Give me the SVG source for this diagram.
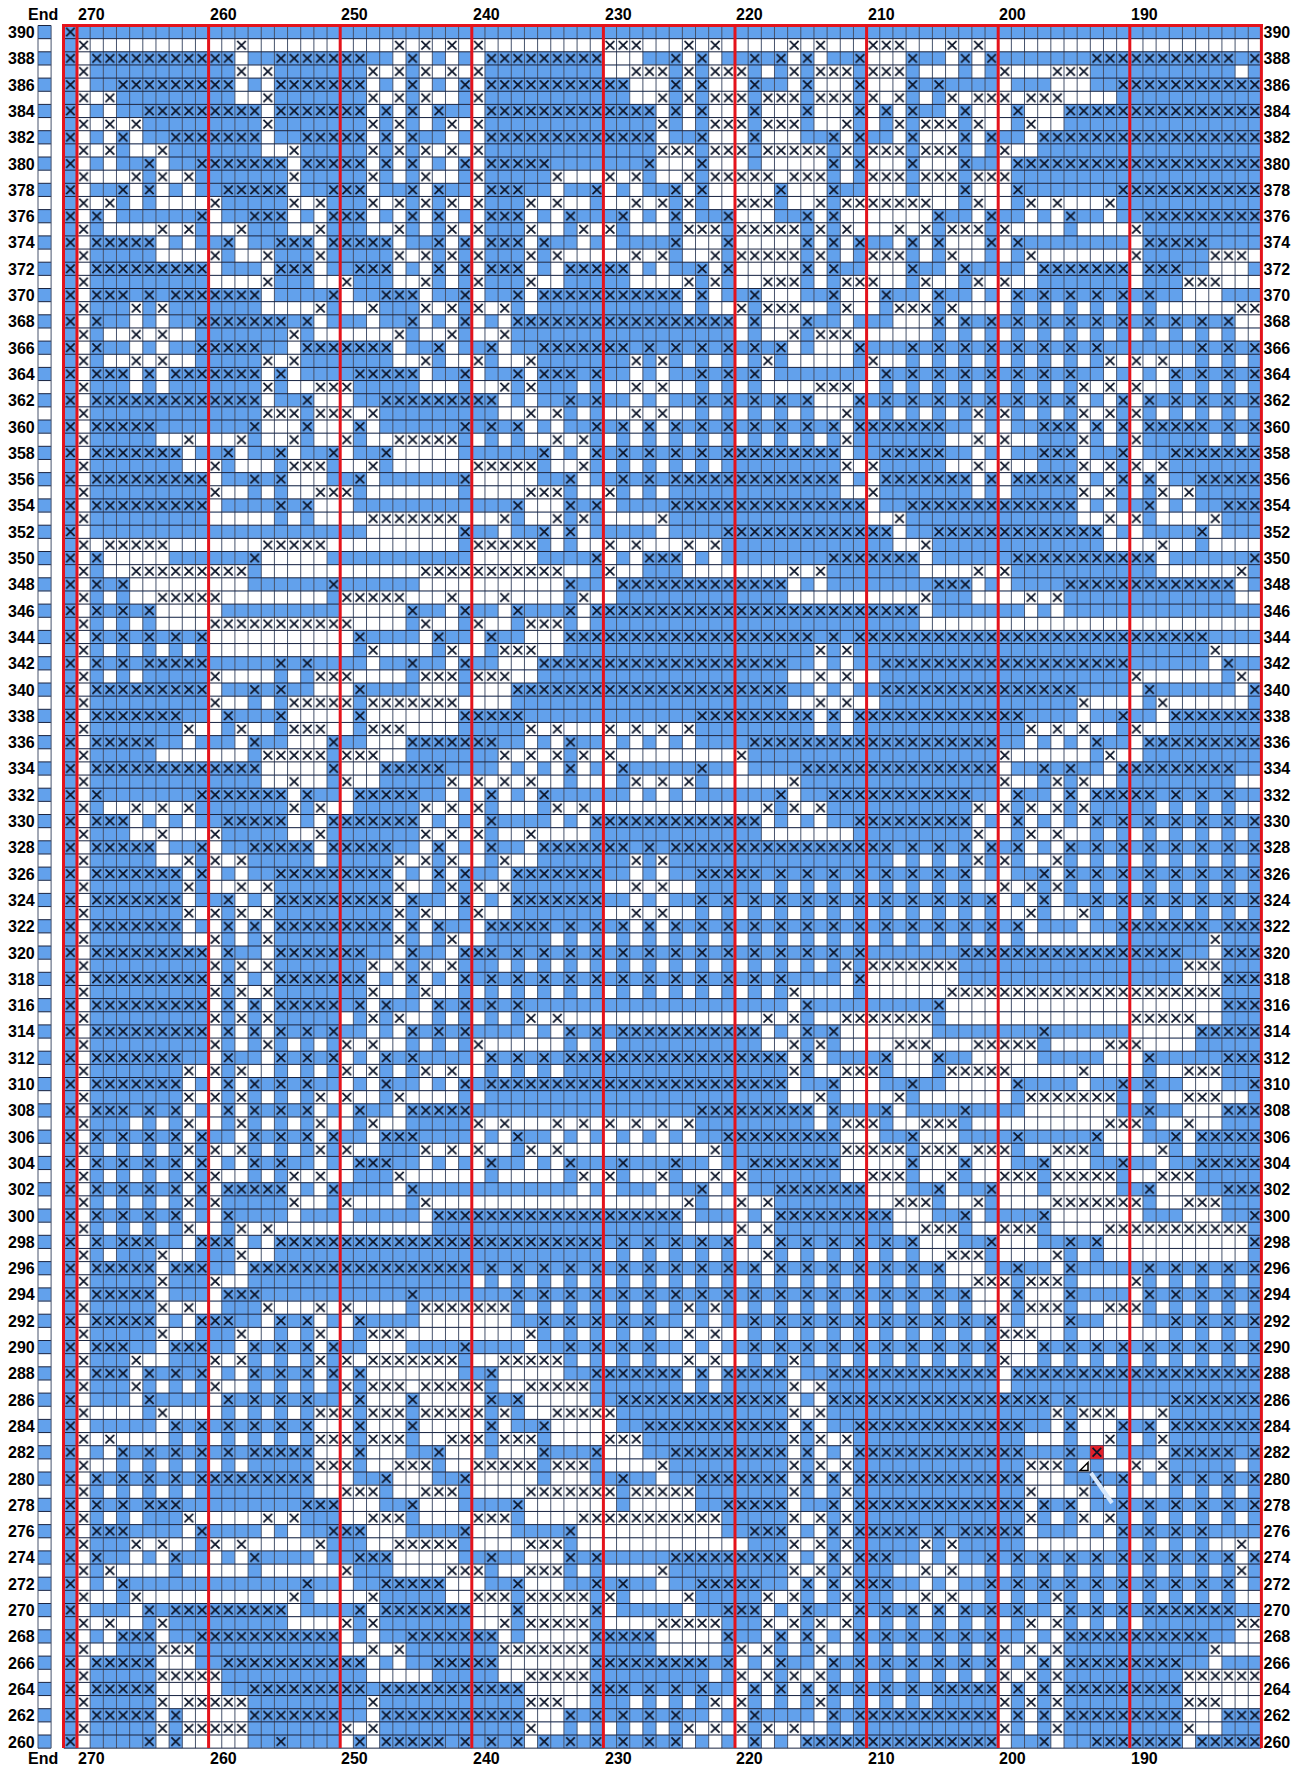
<svg xmlns="http://www.w3.org/2000/svg" width="1306" height="1769" viewBox="0 0 1306 1769">
<style>
text{font-family:"Liberation Sans",Arial,sans-serif;font-weight:bold;font-size:16px;fill:#000}
.e,.o{fill:none;stroke-width:2}
.e{stroke:url(#pe)}
.o{stroke:url(#po)}
.h{fill:none;stroke:#1a2440;stroke-width:1;vector-effect:non-scaling-stroke}
.v{fill:none;stroke:#47536c;stroke-width:1;vector-effect:non-scaling-stroke}
.r{fill:none;stroke:#e4131b;stroke-width:3}
</style>
<defs>
<pattern id="pb" patternUnits="userSpaceOnUse" width="1" height="2"><rect width="1" height="2" fill="#fff"/><rect width="1" height="1" fill="#62a1ec"/></pattern>
<pattern id="pe" patternUnits="userSpaceOnUse" width="1" height="2"><rect width="1" height="2" fill="#62a1ec"/><path d="M.17 .17L.83 .83M.83 .17L.17 .83" fill="none" stroke="#0b1428" stroke-width=".13"/></pattern>
<pattern id="po" patternUnits="userSpaceOnUse" width="1" height="2"><rect width="1" height="2" fill="#fff"/><path d="M.17 1.17L.83 1.83M.83 1.17L.17 1.83" fill="none" stroke="#0b1428" stroke-width=".13"/></pattern>
<clipPath id="cl"><rect x="-1" y="0" width="91" height="131"/></clipPath>
</defs>
<rect width="1306" height="1769" fill="#fff"/>
<g id="end-column" transform="translate(38 25.5) scale(13.1 13.15)">
<rect width="1" height="131" fill="url(#pb)"/>
<path class="h" d="M0 0H1M0 1H1M0 2H1M0 3H1M0 4H1M0 5H1M0 6H1M0 7H1M0 8H1M0 9H1M0 10H1M0 11H1M0 12H1M0 13H1M0 14H1M0 15H1M0 16H1M0 17H1M0 18H1M0 19H1M0 20H1M0 21H1M0 22H1M0 23H1M0 24H1M0 25H1M0 26H1M0 27H1M0 28H1M0 29H1M0 30H1M0 31H1M0 32H1M0 33H1M0 34H1M0 35H1M0 36H1M0 37H1M0 38H1M0 39H1M0 40H1M0 41H1M0 42H1M0 43H1M0 44H1M0 45H1M0 46H1M0 47H1M0 48H1M0 49H1M0 50H1M0 51H1M0 52H1M0 53H1M0 54H1M0 55H1M0 56H1M0 57H1M0 58H1M0 59H1M0 60H1M0 61H1M0 62H1M0 63H1M0 64H1M0 65H1M0 66H1M0 67H1M0 68H1M0 69H1M0 70H1M0 71H1M0 72H1M0 73H1M0 74H1M0 75H1M0 76H1M0 77H1M0 78H1M0 79H1M0 80H1M0 81H1M0 82H1M0 83H1M0 84H1M0 85H1M0 86H1M0 87H1M0 88H1M0 89H1M0 90H1M0 91H1M0 92H1M0 93H1M0 94H1M0 95H1M0 96H1M0 97H1M0 98H1M0 99H1M0 100H1M0 101H1M0 102H1M0 103H1M0 104H1M0 105H1M0 106H1M0 107H1M0 108H1M0 109H1M0 110H1M0 111H1M0 112H1M0 113H1M0 114H1M0 115H1M0 116H1M0 117H1M0 118H1M0 119H1M0 120H1M0 121H1M0 122H1M0 123H1M0 124H1M0 125H1M0 126H1M0 127H1M0 128H1M0 129H1M0 130H1M0 131H1"/>
<path class="v" d="M0 0V131M1 0V131"/>
</g>
<g id="chart" transform="translate(77 25.5) scale(13.16 13.15)">
<g clip-path="url(#cl)">
<rect x="-1" width="91" height="131" fill="url(#pb)"/>
<path class="e" d="M-1 1h1"/>
<path class="o" d="M0 2h1M12 2h1M24 2h1M26 2h1M28 2h1M30 2h1M40 2h3M46 2h1M48 2h1M54 2h1M56 2h1M60 2h3M66 2h1M68 2h1"/>
<path class="e" d="M-1 3h1M1 3h11M15 3h7M25 3h1M31 3h9M45 3h1M47 3h1M51 3h1M53 3h1M55 3h1M59 3h1M63 3h1M67 3h1M69 3h1M77 3h11M89 3h1"/>
<path class="o" d="M0 4h1M12 4h1M14 4h1M22 4h1M24 4h1M26 4h1M28 4h1M30 4h1M42 4h3M46 4h1M48 4h3M54 4h1M56 4h3M60 4h3M70 4h1M74 4h3"/>
<path class="e" d="M-1 5h1M3 5h9M15 5h7M25 5h1M29 5h1M31 5h11M45 5h1M47 5h1M51 5h1M55 5h1M59 5h1M63 5h1M65 5h1M79 5h11"/>
<path class="o" d="M0 6h1M2 6h1M14 6h1M22 6h1M24 6h1M26 6h1M30 6h1M44 6h1M46 6h1M48 6h3M52 6h3M56 6h3M60 6h1M62 6h1M66 6h1M68 6h3M72 6h3"/>
<path class="e" d="M-1 7h1M5 7h9M15 7h7M23 7h1M25 7h1M27 7h1M31 7h13M45 7h1M47 7h1M51 7h1M55 7h1M59 7h1M61 7h1M63 7h1M67 7h1M71 7h1M75 7h15"/>
<path class="o" d="M0 8h1M2 8h1M4 8h1M14 8h1M22 8h1M24 8h1M28 8h1M30 8h1M44 8h1M48 8h3M52 8h3M58 8h1M62 8h1M64 8h3M68 8h1M72 8h1"/>
<path class="e" d="M-1 9h1M3 9h1M7 9h7M17 9h5M23 9h1M25 9h1M31 9h13M47 9h1M51 9h1M57 9h1M59 9h1M63 9h1M67 9h1M69 9h1M73 9h17"/>
<path class="o" d="M0 10h1M2 10h1M6 10h1M16 10h1M22 10h1M24 10h1M26 10h1M28 10h1M30 10h1M44 10h3M48 10h3M52 10h5M58 10h1M60 10h3M64 10h3M70 10h1"/>
<path class="e" d="M-1 11h1M5 11h1M9 11h7M17 11h5M23 11h1M25 11h1M29 11h1M31 11h5M43 11h1M47 11h1M57 11h1M59 11h1M63 11h1M67 11h1M71 11h19"/>
<path class="o" d="M0 12h1M4 12h1M6 12h1M8 12h1M16 12h1M22 12h1M26 12h1M30 12h1M36 12h1M40 12h1M42 12h1M46 12h1M48 12h5M54 12h3M60 12h3M64 12h3M68 12h3"/>
<path class="e" d="M-1 13h1M3 13h1M5 13h1M11 13h5M19 13h3M25 13h1M27 13h1M31 13h3M39 13h1M45 13h1M47 13h1M53 13h1M57 13h1M67 13h1M71 13h1M79 13h11"/>
<path class="o" d="M0 14h1M2 14h1M10 14h1M16 14h1M18 14h1M22 14h1M24 14h1M26 14h1M28 14h1M30 14h1M34 14h1M36 14h1M42 14h1M44 14h1M46 14h1M50 14h3M56 14h1M58 14h7M68 14h1M72 14h1M74 14h1M78 14h1"/>
<path class="e" d="M-1 15h1M1 15h1M9 15h1M13 15h3M19 15h3M25 15h1M27 15h1M31 15h3M37 15h1M41 15h1M45 15h1M49 15h1M55 15h1M57 15h1M65 15h1M69 15h1M75 15h1M81 15h9"/>
<path class="o" d="M0 16h1M6 16h1M8 16h1M12 16h1M18 16h1M24 16h1M28 16h1M30 16h1M34 16h1M38 16h1M40 16h1M46 16h3M50 16h5M56 16h1M58 16h1M62 16h1M64 16h1M66 16h3M70 16h1M80 16h1"/>
<path class="e" d="M-1 17h1M1 17h5M11 17h1M15 17h3M19 17h5M27 17h1M29 17h1M31 17h3M35 17h1M45 17h1M49 17h1M55 17h1M57 17h1M59 17h1M63 17h1M65 17h1M69 17h1M71 17h1M81 17h5"/>
<path class="o" d="M0 18h1M10 18h1M14 18h1M18 18h1M24 18h1M26 18h1M28 18h1M30 18h1M34 18h1M36 18h1M42 18h1M44 18h1M48 18h1M50 18h5M56 18h1M60 18h3M66 18h1M72 18h1M80 18h1M86 18h3"/>
<path class="e" d="M-1 19h1M1 19h9M15 19h3M21 19h3M27 19h1M29 19h1M31 19h3M37 19h5M47 19h1M49 19h1M55 19h1M57 19h1M63 19h1M67 19h1M73 19h7M81 19h3"/>
<path class="o" d="M0 20h1M14 20h1M20 20h1M26 20h1M30 20h1M34 20h1M46 20h1M48 20h1M52 20h3M58 20h3M64 20h1M68 20h1M70 20h1M84 20h3"/>
<path class="e" d="M-1 21h1M1 21h3M5 21h1M7 21h7M19 21h1M23 21h3M29 21h1M33 21h1M35 21h11M47 21h1M51 21h1M57 21h1M61 21h1M65 21h1M71 21h1M73 21h1M75 21h1M77 21h1M79 21h1M81 21h1"/>
<path class="o" d="M0 22h1M4 22h1M6 22h1M18 22h1M22 22h1M26 22h1M28 22h1M30 22h1M32 22h1M50 22h1M52 22h3M58 22h1M62 22h3M66 22h1M88 22h2"/>
<path class="e" d="M-1 23h1M1 23h1M9 23h7M17 23h1M25 23h1M29 23h1M33 23h17M51 23h1M55 23h1M65 23h1M67 23h1M69 23h1M71 23h1M73 23h1M75 23h1M77 23h1M79 23h1M81 23h1M83 23h1M85 23h1M87 23h1"/>
<path class="o" d="M0 24h1M4 24h1M6 24h1M16 24h1M24 24h1M28 24h1M32 24h1M54 24h1M56 24h3"/>
<path class="e" d="M-1 25h1M1 25h1M9 25h5M17 25h7M27 25h1M31 25h1M35 25h7M43 25h1M45 25h1M47 25h1M49 25h1M51 25h1M53 25h1M59 25h1M63 25h1M65 25h1M67 25h1M69 25h1M71 25h1M73 25h1M75 25h1M77 25h1M85 25h1M87 25h1M89 25h1"/>
<path class="o" d="M0 26h1M4 26h1M6 26h1M14 26h1M16 26h1M26 26h1M30 26h1M34 26h1M42 26h1M44 26h1M52 26h1M60 26h1M78 26h1M80 26h1M82 26h1"/>
<path class="e" d="M-1 27h1M1 27h3M5 27h1M7 27h7M15 27h1M21 27h5M29 27h1M33 27h1M35 27h3M39 27h1M47 27h1M49 27h1M51 27h1M61 27h1M63 27h1M65 27h1M67 27h1M69 27h1M71 27h1M73 27h1M75 27h1M83 27h1M85 27h1M87 27h1M89 27h1"/>
<path class="o" d="M0 28h1M14 28h1M18 28h3M32 28h1M34 28h1M42 28h1M44 28h1M56 28h3M76 28h1M78 28h1M80 28h1"/>
<path class="e" d="M-1 29h1M1 29h13M17 29h1M23 29h9M37 29h1M39 29h1M47 29h1M49 29h1M51 29h1M53 29h1M55 29h1M59 29h1M61 29h1M63 29h1M65 29h1M67 29h1M69 29h1M71 29h1M73 29h1M75 29h1M79 29h1M81 29h1M83 29h1M85 29h1M87 29h1M89 29h1"/>
<path class="o" d="M0 30h1M14 30h3M18 30h3M22 30h1M34 30h1M36 30h1M42 30h1M44 30h1M58 30h1M68 30h1M70 30h1M76 30h1M78 30h1M80 30h1"/>
<path class="e" d="M-1 31h1M1 31h5M13 31h1M17 31h1M21 31h1M29 31h1M31 31h1M33 31h1M39 31h1M41 31h1M43 31h1M45 31h1M47 31h1M49 31h1M51 31h1M53 31h1M55 31h1M57 31h1M59 31h7M73 31h3M77 31h1M79 31h1M81 31h5M87 31h1M89 31h1"/>
<path class="o" d="M0 32h1M8 32h1M12 32h1M16 32h1M20 32h1M24 32h5M36 32h1M38 32h1M58 32h1M68 32h1M70 32h1M76 32h1M80 32h1"/>
<path class="e" d="M-1 33h1M1 33h7M11 33h1M15 33h1M19 33h1M23 33h1M35 33h1M39 33h1M41 33h1M43 33h1M45 33h1M47 33h1M49 33h9M61 33h5M73 33h3M79 33h1M83 33h7"/>
<path class="o" d="M0 34h1M10 34h1M16 34h3M22 34h1M30 34h5M38 34h1M58 34h1M60 34h1M68 34h1M70 34h1M76 34h1M78 34h1M80 34h1M82 34h1"/>
<path class="e" d="M-1 35h1M1 35h9M13 35h1M15 35h1M21 35h1M29 35h1M37 35h1M41 35h1M43 35h1M45 35h13M61 35h7M69 35h1M71 35h5M79 35h1M81 35h1M85 35h5"/>
<path class="o" d="M0 36h1M10 36h1M18 36h3M34 36h3M40 36h1M60 36h1M76 36h1M78 36h1M82 36h1M84 36h1"/>
<path class="e" d="M-1 37h1M1 37h9M15 37h1M17 37h1M33 37h1M37 37h1M39 37h1M45 37h15M63 37h13M81 37h1M87 37h3"/>
<path class="o" d="M0 38h1M22 38h7M32 38h1M36 38h1M38 38h1M44 38h1M62 38h1M78 38h1M80 38h1M86 38h1"/>
<path class="e" d="M-1 39h1M29 39h1M35 39h1M37 39h1M49 39h13M65 39h13M85 39h1"/>
<path class="o" d="M0 40h1M2 40h5M14 40h5M30 40h5M40 40h1M42 40h1M46 40h1M48 40h1M64 40h1M82 40h1"/>
<path class="e" d="M-1 41h1M1 41h1M13 41h1M39 41h1M43 41h3M57 41h7M71 41h11M89 41h1"/>
<path class="o" d="M0 42h1M4 42h9M26 42h11M40 42h1M54 42h1M56 42h1M68 42h1M70 42h1M88 42h1"/>
<path class="e" d="M-1 43h1M1 43h1M3 43h1M19 43h1M37 43h1M41 43h13M65 43h3M75 43h13"/>
<path class="o" d="M0 44h1M6 44h5M20 44h5M28 44h1M32 44h1M38 44h1M64 44h1M72 44h1M74 44h1"/>
<path class="e" d="M-1 45h1M1 45h1M3 45h1M5 45h1M25 45h1M29 45h1M33 45h1M37 45h1M39 45h25"/>
<path class="o" d="M0 46h1M10 46h11M26 46h1M30 46h1M34 46h3"/>
<path class="e" d="M-1 47h1M1 47h1M3 47h1M5 47h1M7 47h1M9 47h1M21 47h1M27 47h1M31 47h1M37 47h19M57 47h1M59 47h27"/>
<path class="o" d="M0 48h1M22 48h1M28 48h1M32 48h3M56 48h1M58 48h1M86 48h1"/>
<path class="e" d="M-1 49h1M1 49h1M3 49h1M5 49h5M15 49h1M17 49h1M25 49h1M29 49h1M35 49h19M61 49h19M87 49h1"/>
<path class="o" d="M0 50h1M10 50h1M18 50h3M26 50h3M30 50h3M56 50h1M58 50h1M80 50h1M88 50h1"/>
<path class="e" d="M-1 51h1M1 51h9M13 51h1M15 51h1M21 51h1M33 51h21M61 51h15M81 51h1M89 51h1"/>
<path class="o" d="M0 52h1M10 52h1M16 52h5M22 52h7M56 52h1M58 52h1M76 52h1M82 52h1"/>
<path class="e" d="M-1 53h1M1 53h7M11 53h1M15 53h1M21 53h1M29 53h5M47 53h9M57 53h1M59 53h13M79 53h1M83 53h7"/>
<path class="o" d="M0 54h1M8 54h1M12 54h1M16 54h3M22 54h3M34 54h1M36 54h1M40 54h1M42 54h1M44 54h1M46 54h1M72 54h1M74 54h1M76 54h1M80 54h1"/>
<path class="e" d="M-1 55h1M1 55h5M13 55h1M19 55h1M25 55h7M37 55h1M51 55h19M77 55h1M81 55h9"/>
<path class="o" d="M0 56h1M14 56h5M20 56h3M32 56h1M34 56h1M36 56h1M38 56h1M40 56h1M50 56h1M70 56h1M78 56h1"/>
<path class="e" d="M-1 57h1M1 57h13M19 57h1M23 57h5M37 57h1M41 57h1M47 57h1M55 57h15M73 57h1M75 57h1M79 57h9"/>
<path class="o" d="M0 58h1M16 58h1M20 58h1M28 58h1M30 58h1M32 58h1M34 58h1M42 58h1M44 58h1M46 58h1M54 58h1M70 58h1M74 58h1M76 58h1"/>
<path class="e" d="M-1 59h1M1 59h1M9 59h7M17 59h1M21 59h5M31 59h1M35 59h1M53 59h1M57 59h11M71 59h1M75 59h1M77 59h5M83 59h1M85 59h1M87 59h1"/>
<path class="o" d="M0 60h1M4 60h1M6 60h1M8 60h1M16 60h1M18 60h1M26 60h1M28 60h1M30 60h1M36 60h1M38 60h1M52 60h1M54 60h1M56 60h1M68 60h1M70 60h1M72 60h1M74 60h1M76 60h1"/>
<path class="e" d="M-1 61h1M1 61h3M11 61h5M19 61h7M31 61h1M39 61h13M59 61h9M71 61h1M77 61h1M79 61h1M81 61h1M83 61h1M85 61h1M87 61h1M89 61h1"/>
<path class="o" d="M0 62h1M6 62h1M10 62h1M18 62h1M26 62h1M28 62h1M30 62h1M34 62h1M68 62h1M72 62h1M74 62h1"/>
<path class="e" d="M-1 63h1M1 63h5M9 63h1M13 63h5M19 63h5M27 63h1M31 63h1M35 63h7M43 63h1M45 63h17M63 63h1M65 63h1M67 63h1M69 63h1M71 63h1M75 63h1M77 63h1M79 63h1M81 63h1M83 63h1M85 63h1M87 63h1M89 63h1"/>
<path class="o" d="M0 64h1M8 64h1M10 64h1M12 64h1M24 64h1M26 64h1M28 64h1M32 64h1M42 64h1M44 64h1M68 64h1M70 64h1M74 64h1"/>
<path class="e" d="M-1 65h1M1 65h7M9 65h1M15 65h9M27 65h1M29 65h1M33 65h7M47 65h5M53 65h1M55 65h1M57 65h1M59 65h1M61 65h1M63 65h1M65 65h1M67 65h1M73 65h1M75 65h1M77 65h1M79 65h1M81 65h1M83 65h1M85 65h1M87 65h1M89 65h1"/>
<path class="o" d="M0 66h1M8 66h1M12 66h1M14 66h1M24 66h1M28 66h1M30 66h1M32 66h1M42 66h1M44 66h1M70 66h1M72 66h1M74 66h1"/>
<path class="e" d="M-1 67h1M1 67h7M11 67h1M15 67h9M25 67h1M29 67h1M33 67h7M47 67h1M49 67h1M51 67h1M53 67h1M55 67h1M57 67h1M59 67h1M61 67h1M63 67h1M65 67h1M67 67h1M69 67h1M73 67h1M77 67h1M79 67h1M81 67h1M83 67h1M85 67h1M87 67h1M89 67h1"/>
<path class="o" d="M0 68h1M8 68h1M10 68h1M12 68h1M14 68h1M24 68h1M26 68h1M30 68h1M42 68h1M44 68h1M72 68h1M76 68h1"/>
<path class="e" d="M-1 69h1M1 69h7M11 69h1M13 69h1M15 69h9M25 69h1M27 69h1M31 69h5M37 69h1M39 69h1M41 69h1M43 69h1M45 69h1M47 69h1M49 69h1M51 69h1M53 69h1M55 69h1M57 69h1M59 69h1M61 69h1M63 69h1M65 69h1M67 69h1M69 69h1M71 69h1M79 69h7M87 69h3"/>
<path class="o" d="M0 70h1M10 70h1M14 70h1M24 70h1M28 70h1M86 70h1"/>
<path class="e" d="M-1 71h1M1 71h9M11 71h1M15 71h7M25 71h1M29 71h3M33 71h1M35 71h1M37 71h1M39 71h1M41 71h1M43 71h1M45 71h1M47 71h1M49 71h1M51 71h1M53 71h1M55 71h1M57 71h1M59 71h1M67 71h17M87 71h3"/>
<path class="o" d="M0 72h1M10 72h1M12 72h1M14 72h1M22 72h1M24 72h1M26 72h1M28 72h1M58 72h1M60 72h7M84 72h3"/>
<path class="e" d="M-1 73h1M1 73h9M11 73h1M15 73h7M25 73h1M29 73h1M31 73h1M33 73h1M35 73h1M37 73h1M39 73h1M41 73h1M43 73h1M45 73h1M47 73h1M49 73h1M51 73h1M53 73h1M59 73h1M87 73h3"/>
<path class="o" d="M0 74h1M10 74h1M12 74h1M14 74h1M22 74h1M26 74h1M54 74h1M66 74h21"/>
<path class="e" d="M-1 75h1M1 75h9M11 75h1M13 75h1M15 75h5M21 75h1M23 75h1M27 75h1M29 75h1M31 75h1M33 75h1M55 75h1M65 75h1M87 75h3"/>
<path class="o" d="M0 76h1M10 76h1M12 76h1M14 76h1M22 76h1M24 76h1M34 76h1M36 76h1M52 76h1M54 76h1M58 76h7M80 76h5"/>
<path class="e" d="M-1 77h1M1 77h9M11 77h1M13 77h1M15 77h1M17 77h1M19 77h1M25 77h1M27 77h1M29 77h1M37 77h1M39 77h1M41 77h11M55 77h1M57 77h1M73 77h1M85 77h5"/>
<path class="o" d="M0 78h1M10 78h1M14 78h1M20 78h1M22 78h1M30 78h1M54 78h1M56 78h1M62 78h3M68 78h5M78 78h3"/>
<path class="e" d="M-1 79h1M1 79h7M11 79h1M15 79h1M17 79h1M19 79h1M23 79h1M25 79h1M31 79h1M33 79h1M35 79h1M37 79h17M55 79h1M61 79h1M65 79h1M81 79h1M87 79h3"/>
<path class="o" d="M0 80h1M8 80h1M10 80h1M12 80h1M20 80h1M22 80h1M26 80h1M28 80h1M54 80h1M58 80h3M66 80h5M76 80h1M84 80h3"/>
<path class="e" d="M-1 81h1M1 81h7M11 81h1M13 81h1M15 81h1M17 81h1M23 81h1M29 81h1M31 81h23M57 81h1M63 81h1M71 81h1M79 81h1M81 81h1M89 81h1"/>
<path class="o" d="M0 82h1M8 82h1M10 82h1M12 82h1M18 82h1M20 82h1M24 82h1M56 82h1M62 82h1M72 82h7M84 82h3"/>
<path class="e" d="M-1 83h1M1 83h3M5 83h1M7 83h1M11 83h1M13 83h1M15 83h1M17 83h1M21 83h1M25 83h5M47 83h9M57 83h1M61 83h1M67 83h1M81 83h1M87 83h3"/>
<path class="o" d="M0 84h1M8 84h1M12 84h1M18 84h1M22 84h1M30 84h1M32 84h1M36 84h1M38 84h1M40 84h1M42 84h1M44 84h1M46 84h1M58 84h3M64 84h3M78 84h3M84 84h1"/>
<path class="e" d="M-1 85h1M1 85h1M3 85h1M5 85h1M7 85h1M9 85h1M13 85h1M15 85h1M17 85h1M19 85h1M23 85h3M33 85h1M49 85h9M63 85h1M71 85h1M77 85h1M83 85h1M85 85h5"/>
<path class="o" d="M0 86h1M8 86h1M10 86h1M12 86h1M18 86h1M20 86h1M26 86h1M28 86h1M30 86h1M34 86h1M36 86h1M48 86h1M58 86h5M64 86h3M68 86h3M74 86h3M82 86h1"/>
<path class="e" d="M-1 87h1M1 87h1M3 87h1M5 87h1M7 87h1M9 87h1M13 87h1M15 87h1M21 87h3M31 87h1M37 87h1M41 87h1M45 87h1M51 87h7M63 87h1M67 87h1M73 87h1M79 87h1M85 87h5"/>
<path class="o" d="M0 88h1M8 88h1M10 88h1M16 88h1M18 88h1M24 88h1M38 88h1M40 88h1M44 88h1M48 88h1M50 88h1M60 88h3M66 88h1M70 88h3M74 88h5M82 88h3"/>
<path class="e" d="M-1 89h1M1 89h1M3 89h1M5 89h1M7 89h1M9 89h1M11 89h5M19 89h1M25 89h1M47 89h1M53 89h7M65 89h1M69 89h1M81 89h1M87 89h3"/>
<path class="o" d="M0 90h1M8 90h1M10 90h1M16 90h1M20 90h1M26 90h1M46 90h1M50 90h1M52 90h1M62 90h3M68 90h1M74 90h7M84 90h3"/>
<path class="e" d="M-1 91h1M1 91h1M3 91h1M5 91h1M7 91h1M11 91h1M27 91h19M53 91h9M67 91h1M73 91h1M89 91h1"/>
<path class="o" d="M0 92h1M8 92h1M12 92h1M14 92h1M50 92h1M52 92h1M64 92h3M70 92h3M78 92h11"/>
<path class="e" d="M-1 93h1M1 93h1M3 93h3M9 93h3M15 93h25M41 93h1M43 93h1M45 93h1M47 93h1M49 93h1M53 93h1M55 93h1M57 93h1M59 93h1M61 93h1M63 93h1M69 93h1M75 93h1M77 93h1M89 93h1"/>
<path class="o" d="M0 94h1M6 94h1M12 94h1M52 94h1M66 94h3M74 94h1"/>
<path class="e" d="M-1 95h1M1 95h5M7 95h3M13 95h17M31 95h1M33 95h1M35 95h1M37 95h1M39 95h1M41 95h1M43 95h1M45 95h1M47 95h1M49 95h1M51 95h1M53 95h1M55 95h1M57 95h1M59 95h1M61 95h1M63 95h1M65 95h1M71 95h1M75 95h1M81 95h1M83 95h1M85 95h1M87 95h1M89 95h1"/>
<path class="o" d="M0 96h1M6 96h1M10 96h1M68 96h3M72 96h3M80 96h1"/>
<path class="e" d="M-1 97h1M1 97h5M11 97h3M25 97h1M33 97h1M35 97h1M37 97h1M39 97h1M41 97h1M43 97h1M45 97h1M47 97h1M49 97h1M51 97h1M53 97h1M55 97h1M57 97h1M59 97h1M61 97h1M63 97h1M65 97h1M67 97h1M71 97h1M75 97h1M81 97h1M83 97h1M85 97h1M87 97h1M89 97h1"/>
<path class="o" d="M0 98h1M6 98h1M8 98h1M14 98h1M18 98h1M20 98h1M26 98h7M46 98h1M48 98h1M70 98h1M72 98h3M78 98h3"/>
<path class="e" d="M-1 99h1M1 99h5M9 99h3M15 99h1M17 99h1M21 99h1M35 99h1M37 99h1M39 99h1M41 99h1M43 99h1M51 99h1M53 99h1M55 99h1M57 99h1M59 99h1M61 99h1M63 99h1M65 99h1M67 99h1M69 99h1M75 99h1M83 99h1M85 99h1M87 99h1M89 99h1"/>
<path class="o" d="M0 100h1M6 100h1M12 100h1M18 100h1M22 100h3M34 100h1M46 100h1M48 100h1M70 100h3"/>
<path class="e" d="M-1 101h1M1 101h3M7 101h3M13 101h1M15 101h1M17 101h1M19 101h1M29 101h1M37 101h1M39 101h1M41 101h1M43 101h1M51 101h1M53 101h1M55 101h1M57 101h1M59 101h1M61 101h1M63 101h1M65 101h1M67 101h1M69 101h1M73 101h1M75 101h1M77 101h1M79 101h1M81 101h1M83 101h1M85 101h1M87 101h1M89 101h1"/>
<path class="o" d="M0 102h1M4 102h1M10 102h1M12 102h1M18 102h1M20 102h1M22 102h7M32 102h5M46 102h1M48 102h1M54 102h1M70 102h1"/>
<path class="e" d="M-1 103h1M1 103h3M5 103h1M7 103h1M9 103h1M13 103h1M15 103h1M17 103h1M19 103h1M21 103h1M31 103h1M39 103h7M47 103h1M49 103h5M57 103h13M71 103h19"/>
<path class="o" d="M0 104h1M4 104h1M10 104h1M20 104h1M22 104h3M26 104h5M34 104h5M54 104h1M56 104h1"/>
<path class="e" d="M-1 105h1M5 105h1M11 105h1M13 105h1M15 105h1M17 105h1M21 105h1M25 105h1M31 105h1M33 105h1M41 105h13M57 105h17M75 105h1M83 105h7"/>
<path class="o" d="M0 106h1M6 106h1M18 106h3M22 106h3M26 106h5M32 106h1M36 106h5M54 106h1M56 106h1M74 106h1M76 106h3M82 106h1"/>
<path class="e" d="M-1 107h1M7 107h1M9 107h1M11 107h1M13 107h1M15 107h1M17 107h1M21 107h1M25 107h1M31 107h1M35 107h1M43 107h11M55 107h1M59 107h13M75 107h1M79 107h1M81 107h1M83 107h7"/>
<path class="o" d="M0 108h1M2 108h1M18 108h3M22 108h3M28 108h3M32 108h3M40 108h3M54 108h1M56 108h1M58 108h1M78 108h1M82 108h1"/>
<path class="e" d="M-1 109h1M3 109h1M5 109h1M7 109h1M9 109h1M11 109h1M13 109h5M21 109h1M27 109h1M35 109h1M39 109h1M45 109h9M55 109h1M59 109h13M75 109h1M77 109h1M83 109h5M89 109h1"/>
<path class="o" d="M0 110h1M18 110h3M24 110h3M30 110h5M36 110h3M44 110h1M54 110h1M56 110h1M58 110h1M72 110h3M80 110h1M82 110h1"/>
<path class="e" d="M-1 111h1M1 111h1M3 111h1M5 111h1M7 111h1M9 111h9M23 111h1M29 111h1M41 111h1M47 111h7M55 111h1M57 111h1M59 111h13M77 111h1M79 111h1M83 111h1M85 111h1M87 111h1M89 111h1"/>
<path class="o" d="M0 112h1M20 112h3M26 112h3M34 112h7M42 112h5M54 112h1M58 112h1M72 112h1M76 112h1"/>
<path class="e" d="M-1 113h1M1 113h1M3 113h1M5 113h3M17 113h3M25 113h1M33 113h1M49 113h5M57 113h1M59 113h13M73 113h1M75 113h1M79 113h1M81 113h1M83 113h1M85 113h1M87 113h1M89 113h1"/>
<path class="o" d="M0 114h1M8 114h1M14 114h1M16 114h1M22 114h3M30 114h3M38 114h11M54 114h1M56 114h1M58 114h1M72 114h1M76 114h1M78 114h1"/>
<path class="e" d="M-1 115h1M1 115h3M9 115h1M19 115h3M29 115h1M37 115h1M51 115h3M57 115h1M59 115h5M65 115h1M67 115h5M79 115h1M81 115h1M83 115h1M85 115h1"/>
<path class="o" d="M0 116h1M4 116h1M6 116h1M10 116h1M12 116h1M18 116h1M24 116h5M34 116h3M54 116h1M56 116h1M58 116h1M64 116h1M66 116h1M88 116h1"/>
<path class="e" d="M-1 117h1M1 117h1M7 117h1M13 117h1M21 117h3M31 117h1M37 117h1M39 117h1M45 117h9M57 117h1M59 117h3M69 117h1M71 117h1M73 117h1M75 117h1M77 117h1M79 117h1M81 117h1M83 117h1M85 117h1M87 117h1M89 117h1"/>
<path class="o" d="M0 118h1M2 118h1M20 118h1M28 118h3M34 118h3M44 118h1M54 118h1M56 118h1M58 118h1M64 118h1M66 118h1M88 118h1"/>
<path class="e" d="M-1 119h1M3 119h1M17 119h1M23 119h5M33 119h1M39 119h1M41 119h1M47 119h5M55 119h1M57 119h1M59 119h3M69 119h1M71 119h1M73 119h1M75 119h1M77 119h1M79 119h1M81 119h1M83 119h1M85 119h1M87 119h1"/>
<path class="o" d="M0 120h1M4 120h1M16 120h1M22 120h1M30 120h3M34 120h5M40 120h1M46 120h1M52 120h1M54 120h1M58 120h1M64 120h1M66 120h1M74 120h1"/>
<path class="e" d="M-1 121h1M5 121h1M7 121h9M21 121h1M23 121h7M33 121h1M39 121h1M49 121h3M55 121h1M59 121h1M61 121h1M63 121h1M65 121h1M67 121h1M69 121h1M71 121h1M75 121h1M77 121h1M79 121h1M81 121h7"/>
<path class="o" d="M0 122h1M2 122h1M6 122h1M20 122h1M22 122h1M32 122h1M34 122h5M44 122h5M52 122h1M54 122h1M56 122h1M58 122h1M72 122h1M74 122h1M88 122h2"/>
<path class="e" d="M-1 123h1M3 123h3M9 123h11M25 123h7M39 123h5M49 123h1M53 123h1M55 123h1M59 123h1M61 123h1M63 123h1M65 123h1M67 123h1M69 123h1M75 123h11"/>
<path class="o" d="M0 124h1M6 124h3M22 124h1M24 124h1M32 124h7M50 124h1M52 124h1M56 124h1M70 124h1M72 124h1M74 124h1M86 124h1"/>
<path class="e" d="M-1 125h1M1 125h5M11 125h11M27 125h5M39 125h9M49 125h1M53 125h1M57 125h1M59 125h1M61 125h1M63 125h1M65 125h1M67 125h1M69 125h1M73 125h1M75 125h9"/>
<path class="o" d="M0 126h1M6 126h5M34 126h5M50 126h1M52 126h1M54 126h1M56 126h1M70 126h1M72 126h1M74 126h1M84 126h6"/>
<path class="e" d="M-1 127h1M1 127h5M13 127h9M23 127h11M39 127h3M43 127h1M45 127h1M47 127h1M51 127h1M53 127h1M55 127h1M57 127h1M59 127h1M61 127h1M63 127h1M65 127h5M71 127h1M73 127h1M75 127h9"/>
<path class="o" d="M0 128h1M6 128h1M8 128h5M22 128h1M34 128h3M48 128h1M50 128h1M56 128h1M70 128h1M72 128h1M74 128h1M84 128h3"/>
<path class="e" d="M-1 129h1M1 129h5M7 129h1M13 129h7M23 129h11M37 129h1M39 129h1M41 129h1M43 129h1M45 129h1M51 129h1M57 129h1M59 129h11M71 129h1M73 129h1M75 129h9M87 129h3"/>
<path class="o" d="M0 130h1M6 130h1M8 130h5M20 130h1M22 130h1M34 130h1M46 130h1M48 130h1M50 130h1M52 130h1M54 130h1M70 130h1M74 130h1M84 130h1"/>
<path class="e" d="M-1 131h1M5 131h1M7 131h1M15 131h1M21 131h1M23 131h5M29 131h1M31 131h1M33 131h1M35 131h1M37 131h1M39 131h1M41 131h1M43 131h1M45 131h1M51 131h1M55 131h15M73 131h1M77 131h7M85 131h5"/>
</g>
<path class="v" d="M-1 0V131M0 0V131M1 0V131M2 0V131M3 0V131M4 0V131M5 0V131M6 0V131M7 0V131M8 0V131M9 0V131M10 0V131M11 0V131M12 0V131M13 0V131M14 0V131M15 0V131M16 0V131M17 0V131M18 0V131M19 0V131M20 0V131M21 0V131M22 0V131M23 0V131M24 0V131M25 0V131M26 0V131M27 0V131M28 0V131M29 0V131M30 0V131M31 0V131M32 0V131M33 0V131M34 0V131M35 0V131M36 0V131M37 0V131M38 0V131M39 0V131M40 0V131M41 0V131M42 0V131M43 0V131M44 0V131M45 0V131M46 0V131M47 0V131M48 0V131M49 0V131M50 0V131M51 0V131M52 0V131M53 0V131M54 0V131M55 0V131M56 0V131M57 0V131M58 0V131M59 0V131M60 0V131M61 0V131M62 0V131M63 0V131M64 0V131M65 0V131M66 0V131M67 0V131M68 0V131M69 0V131M70 0V131M71 0V131M72 0V131M73 0V131M74 0V131M75 0V131M76 0V131M77 0V131M78 0V131M79 0V131M80 0V131M81 0V131M82 0V131M83 0V131M84 0V131M85 0V131M86 0V131M87 0V131M88 0V131M89 0V131"/>
<path class="h" d="M-1 0H90M-1 1H90M-1 2H90M-1 3H90M-1 4H90M-1 5H90M-1 6H90M-1 7H90M-1 8H90M-1 9H90M-1 10H90M-1 11H90M-1 12H90M-1 13H90M-1 14H90M-1 15H90M-1 16H90M-1 17H90M-1 18H90M-1 19H90M-1 20H90M-1 21H90M-1 22H90M-1 23H90M-1 24H90M-1 25H90M-1 26H90M-1 27H90M-1 28H90M-1 29H90M-1 30H90M-1 31H90M-1 32H90M-1 33H90M-1 34H90M-1 35H90M-1 36H90M-1 37H90M-1 38H90M-1 39H90M-1 40H90M-1 41H90M-1 42H90M-1 43H90M-1 44H90M-1 45H90M-1 46H90M-1 47H90M-1 48H90M-1 49H90M-1 50H90M-1 51H90M-1 52H90M-1 53H90M-1 54H90M-1 55H90M-1 56H90M-1 57H90M-1 58H90M-1 59H90M-1 60H90M-1 61H90M-1 62H90M-1 63H90M-1 64H90M-1 65H90M-1 66H90M-1 67H90M-1 68H90M-1 69H90M-1 70H90M-1 71H90M-1 72H90M-1 73H90M-1 74H90M-1 75H90M-1 76H90M-1 77H90M-1 78H90M-1 79H90M-1 80H90M-1 81H90M-1 82H90M-1 83H90M-1 84H90M-1 85H90M-1 86H90M-1 87H90M-1 88H90M-1 89H90M-1 90H90M-1 91H90M-1 92H90M-1 93H90M-1 94H90M-1 95H90M-1 96H90M-1 97H90M-1 98H90M-1 99H90M-1 100H90M-1 101H90M-1 102H90M-1 103H90M-1 104H90M-1 105H90M-1 106H90M-1 107H90M-1 108H90M-1 109H90M-1 110H90M-1 111H90M-1 112H90M-1 113H90M-1 114H90M-1 115H90M-1 116H90M-1 117H90M-1 118H90M-1 119H90M-1 120H90M-1 121H90M-1 122H90M-1 123H90M-1 124H90M-1 125H90M-1 126H90M-1 127H90M-1 128H90M-1 129H90M-1 130H90M-1 131H90"/>
<g id="marker-cell"><rect x="77" y="108" width="1" height="1" fill="#e2202a"/><path d="M77.17 108.17L77.83 108.83M77.83 108.17L77.17 108.83" fill="none" stroke="#0b1428" stroke-width=".13"/></g>
</g>
<path id="marker-stripe" d="M1091 1473L1112 1503" fill="none" stroke="#d8e8fb" stroke-width="4"/>
<path id="marker-triangle" d="M1080 1470.5H1088V1462.5Z" fill="#fff" stroke="#000" stroke-width="1.5"/>
<path id="red-lines" class="r" d="M63.5 25.5V1748M77 25.5V1748M208.6 25.5V1748M340.2 25.5V1748M471.8 25.5V1748M603.4 25.5V1748M735 25.5V1748M866.6 25.5V1748M998.2 25.5V1748M1129.8 25.5V1748M1261.4 25.5V1748M62 25.5H1263"/>
<g id="column-labels-top">
<text x="28" y="20">End</text><text x="78" y="20">270</text><text x="210" y="20">260</text><text x="341" y="20">250</text><text x="473" y="20">240</text><text x="605" y="20">230</text><text x="736" y="20">220</text><text x="868" y="20">210</text><text x="999" y="20">200</text><text x="1131" y="20">190</text>
</g>
<g id="column-labels-bottom">
<text x="28" y="1764">End</text><text x="78" y="1764">270</text><text x="210" y="1764">260</text><text x="341" y="1764">250</text><text x="473" y="1764">240</text><text x="605" y="1764">230</text><text x="736" y="1764">220</text><text x="868" y="1764">210</text><text x="999" y="1764">200</text><text x="1131" y="1764">190</text>
</g>
<g id="row-labels-left" transform="translate(8 0)">
<text y="38">390</text><text y="64.3">388</text><text y="90.6">386</text><text y="116.9">384</text><text y="143.2">382</text><text y="169.5">380</text><text y="195.8">378</text><text y="222.1">376</text><text y="248.4">374</text><text y="274.7">372</text><text y="301">370</text><text y="327.3">368</text><text y="353.6">366</text><text y="379.9">364</text><text y="406.2">362</text><text y="432.5">360</text><text y="458.8">358</text><text y="485.1">356</text><text y="511.4">354</text><text y="537.7">352</text><text y="564">350</text><text y="590.3">348</text><text y="616.6">346</text><text y="642.9">344</text><text y="669.2">342</text><text y="695.5">340</text><text y="721.8">338</text><text y="748.1">336</text><text y="774.4">334</text><text y="800.7">332</text><text y="827">330</text><text y="853.3">328</text><text y="879.6">326</text><text y="905.9">324</text><text y="932.2">322</text><text y="958.5">320</text><text y="984.8">318</text><text y="1011.1">316</text><text y="1037.4">314</text><text y="1063.7">312</text><text y="1090">310</text><text y="1116.3">308</text><text y="1142.6">306</text><text y="1168.9">304</text><text y="1195.2">302</text><text y="1221.5">300</text><text y="1247.8">298</text><text y="1274.1">296</text><text y="1300.4">294</text><text y="1326.7">292</text><text y="1353">290</text><text y="1379.3">288</text><text y="1405.6">286</text><text y="1431.9">284</text><text y="1458.2">282</text><text y="1484.5">280</text><text y="1510.8">278</text><text y="1537.1">276</text><text y="1563.4">274</text><text y="1589.7">272</text><text y="1616">270</text><text y="1642.3">268</text><text y="1668.6">266</text><text y="1694.9">264</text><text y="1721.2">262</text><text y="1747.5">260</text>
</g>
<g id="row-labels-right" transform="translate(1263.5 0)">
<text y="38">390</text><text y="64.3">388</text><text y="90.6">386</text><text y="116.9">384</text><text y="143.2">382</text><text y="169.5">380</text><text y="195.8">378</text><text y="222.1">376</text><text y="248.4">374</text><text y="274.7">372</text><text y="301">370</text><text y="327.3">368</text><text y="353.6">366</text><text y="379.9">364</text><text y="406.2">362</text><text y="432.5">360</text><text y="458.8">358</text><text y="485.1">356</text><text y="511.4">354</text><text y="537.7">352</text><text y="564">350</text><text y="590.3">348</text><text y="616.6">346</text><text y="642.9">344</text><text y="669.2">342</text><text y="695.5">340</text><text y="721.8">338</text><text y="748.1">336</text><text y="774.4">334</text><text y="800.7">332</text><text y="827">330</text><text y="853.3">328</text><text y="879.6">326</text><text y="905.9">324</text><text y="932.2">322</text><text y="958.5">320</text><text y="984.8">318</text><text y="1011.1">316</text><text y="1037.4">314</text><text y="1063.7">312</text><text y="1090">310</text><text y="1116.3">308</text><text y="1142.6">306</text><text y="1168.9">304</text><text y="1195.2">302</text><text y="1221.5">300</text><text y="1247.8">298</text><text y="1274.1">296</text><text y="1300.4">294</text><text y="1326.7">292</text><text y="1353">290</text><text y="1379.3">288</text><text y="1405.6">286</text><text y="1431.9">284</text><text y="1458.2">282</text><text y="1484.5">280</text><text y="1510.8">278</text><text y="1537.1">276</text><text y="1563.4">274</text><text y="1589.7">272</text><text y="1616">270</text><text y="1642.3">268</text><text y="1668.6">266</text><text y="1694.9">264</text><text y="1721.2">262</text><text y="1747.5">260</text>
</g>
</svg>
